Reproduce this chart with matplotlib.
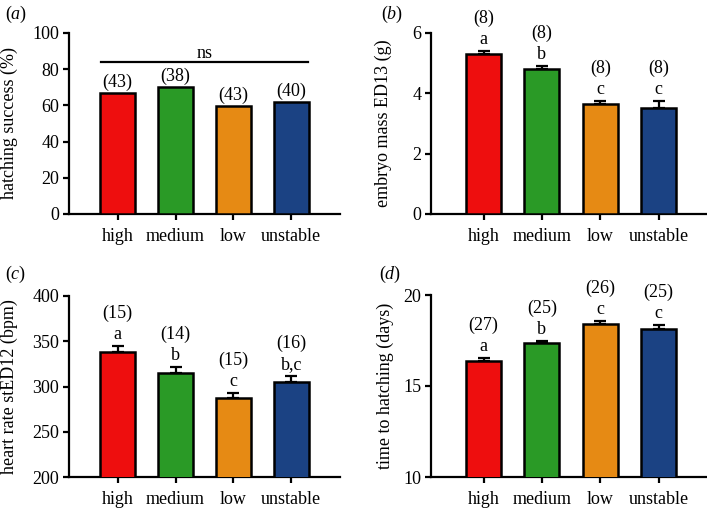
import matplotlib
matplotlib.use("Agg")
import matplotlib.pyplot as plt
import numpy as np

plt.rcParams['font.family'] = ['Liberation Serif', 'DejaVu Serif']
plt.rcParams['mathtext.fontset'] = 'custom'
plt.rcParams['mathtext.rm'] = 'Liberation Serif'
plt.rcParams['mathtext.it'] = 'Liberation Serif:italic'

groups = ['high', 'medium', 'low', 'unstable']
colours = ['#ee0e0e', '#2a9a26', '#e68a14', '#1b4283']

# (a) hatching success
hatch = [66.7, 70.3, 59.7, 61.9]
hatch_n = ['(43)', '(38)', '(43)', '(40)']

# (b) embryo mass
mass = [5.31, 4.81, 3.63, 3.52]
mass_err = [0.10, 0.10, 0.11, 0.23]
mass_n = ['(8)', '(8)', '(8)', '(8)']
mass_sig = ['a', 'b', 'c', 'c']

# (c) heart rate
heart = [338, 315.4, 287, 305.4]
heart_err = [7, 6, 6, 6]
heart_n = ['(15)', '(14)', '(15)', '(16)']
heart_sig = ['a', 'b', 'c', 'b,c']

# (d) time to hatching
days = [16.4, 17.34, 18.4, 18.15]
days_err = [0.15, 0.16, 0.17, 0.2]
days_n = ['(27)', '(25)', '(26)', '(25)']
days_sig = ['a', 'b', 'c', 'c']

FS = 13
W, H = 707, 508
fig = plt.figure(figsize=(W / 100, H / 100), dpi=100)


def make_axes(l, r, t, b):
    return fig.add_axes([l / W, 1 - b / H, (r - l) / W, (b - t) / H])


def style(ax, ylim, yticks, ylabel, labx, xlim):
    x = np.arange(len(groups))
    ax.set_xlim(xlim)
    ax.set_ylim(ylim)
    ax.set_yticks(yticks)
    ax.set_xticks(x)
    ax.set_xticklabels(groups)
    for s in ['top', 'right']:
        ax.spines[s].set_visible(False)
    for s in ['left', 'bottom']:
        ax.spines[s].set_linewidth(1.6)
    ax.tick_params(axis='both', labelsize=FS, width=1.6, length=4, direction='out')
    ax.tick_params(axis='x', pad=6)
    ax.tick_params(axis='y', pad=3)
    ax.set_ylabel(ylabel, fontsize=FS)
    ax.yaxis.set_label_coords(labx, 0.5)


def bars(ax, vals, err=None):
    x = np.arange(len(groups))
    ax.bar(x, vals, width=0.6, color=colours, edgecolor='black', linewidth=1.8, zorder=3)
    if err is not None:
        ax.errorbar(x, vals, yerr=[np.zeros(len(err)), err], fmt='none',
                    ecolor='black', elinewidth=1.6, capsize=4, capthick=1.6, zorder=2)


def labels(ax, vals, err, sig, n):
    for i in range(len(groups)):
        top = vals[i] + err[i]
        ax.annotate(sig[i], (i, top), xytext=(0, 5), textcoords='offset points',
                    ha='center', va='baseline', fontsize=FS)
        ax.annotate(n[i], (i, top), xytext=(0, 20), textcoords='offset points',
                    ha='center', va='baseline', fontsize=FS)


# (a)
ax = make_axes(69, 340, 33, 214)
bars(ax, hatch)
style(ax, (0, 100), [0, 20, 40, 60, 80, 100], 'hatching success (%)', -0.188, (-0.84, 3.84))
for i in range(len(groups)):
    ax.annotate(hatch_n[i], (i, hatch[i]), xytext=(0, 4.5), textcoords='offset points',
                ha='center', va='baseline', fontsize=FS)
ax.plot([-0.28, 3.28], [84, 84], color='black', lw=1.6, clip_on=False)
ax.annotate('ns', (1.5, 84), xytext=(0, 3), textcoords='offset points',
            ha='center', va='baseline', fontsize=FS)

# (b)
ax = make_axes(431, 707, 33, 214)
bars(ax, mass, mass_err)
style(ax, (0, 6), [0, 2, 4, 6], 'embryo mass ED13 (g)', -0.141, (-0.9, 3.83))
labels(ax, mass, mass_err, mass_sig, mass_n)

# (c)
ax = make_axes(69, 340, 296, 477)
bars(ax, heart, heart_err)
style(ax, (200, 400), [200, 250, 300, 350, 400], 'heart rate stED12 (bpm)', -0.188, (-0.84, 3.84))
labels(ax, heart, heart_err, heart_sig, heart_n)

# (d)
ax = make_axes(431, 707, 295, 477)
bars(ax, days, days_err)
style(ax, (10, 20), [10, 15, 20], 'time to hatching (days)', -0.134, (-0.9, 3.83))
labels(ax, days, days_err, days_sig, days_n)

# panel letters
for lab, px, py in [('a', 5, 14), ('b', 381, 14), ('c', 5, 274), ('d', 379, 274)]:
    fig.text(px / W, 1 - py / H, r'$(\mathit{' + lab + r'})$', fontsize=FS,
             ha='left', va='center')

fig.savefig('out.png', dpi=100)
